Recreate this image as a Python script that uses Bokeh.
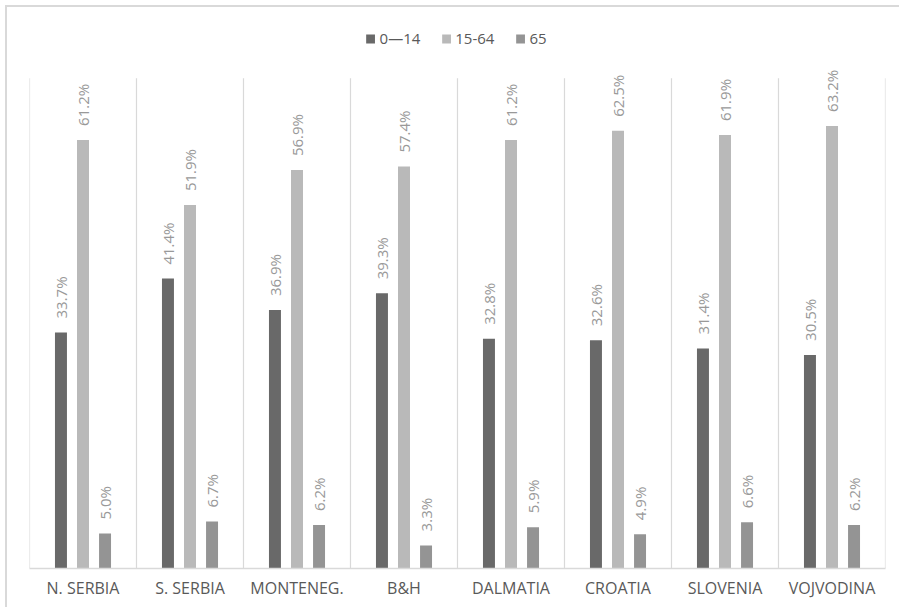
import numpy as np
from bokeh.plotting import figure
from bokeh.models import ColumnDataSource, Range1d, FixedTicker, Legend, LegendItem
from bokeh.core.properties import value
from bokeh.embed import file_html
from bokeh.resources import INLINE

categories = ["N. SERBIA", "S. SERBIA", "MONTENEG.", "B&H", "DALMATIA", "CROATIA", "SLOVENIA", "VOJVODINA"]
series_names = ["0\u201414", "15-64", "65"]
age_0_14 = [33.7, 41.4, 36.9, 39.3, 32.8, 32.6, 31.4, 30.5]
age_15_64 = [61.2, 51.9, 56.9, 57.4, 61.2, 62.5, 61.9, 63.2]
age_65 = [5.0, 6.7, 6.2, 3.3, 5.9, 4.9, 6.6, 6.2]
colors = ["#696969", "#b9b9b9", "#949494"]
axis_max = 70

p = figure(width=894, height=602, output_backend="svg", toolbar_location=None,
           x_range=Range1d(0, len(categories)), y_range=Range1d(0, 79.4),
           min_border_left=22, min_border_right=16, min_border_top=5, min_border_bottom=41)
p.margin = (5, 0, 0, 5)
p.styles = {"border-left": "2px solid #d9d9d9", "border-top": "2px solid #d9d9d9"}
p.outline_line_color = None
p.background_fill_color = "white"
p.border_fill_color = "white"

# category separators
bounds = np.arange(len(categories) + 1)
p.segment(x0=bounds, y0=np.zeros(len(bounds)), x1=bounds, y1=np.full(len(bounds), axis_max),
          line_color="#d9d9d9", line_width=1.2)

idx = np.arange(len(categories))
offsets = [-0.206, 0.0, 0.206]
bar_w = 0.112
items = []
for vals, name, col, off in zip([age_0_14, age_15_64, age_65], series_names, colors, offsets):
    src = ColumnDataSource(dict(x=idx + 0.5 + off, top=vals, lab=["%.1f%%" % v for v in vals]))
    r = p.vbar(x="x", top="top", width=bar_w, bottom=0, source=src, fill_color=col, line_color=None)
    p.text(x="x", y="top", text="lab", source=src, angle=np.pi / 2, text_align="left",
           text_baseline="middle", y_offset=-14, text_font=value("Open Sans"),
           text_font_size="15px", text_color="#999999")
    items.append(LegendItem(label=name, renderers=[r]))

legend = Legend(items=items, orientation="horizontal", location="top_center", margin=16,
                padding=0, spacing=20, glyph_width=11, glyph_height=11, label_standoff=4,
                label_height=20, label_text_font="Open Sans", label_text_font_size="15px",
                label_text_color="#595959", border_line_color=None, background_fill_alpha=0)
p.add_layout(legend, "center")

p.xaxis.ticker = FixedTicker(ticks=list(idx + 0.5))
p.xaxis.major_label_overrides = {float(i + 0.5): c for i, c in enumerate(categories)}
p.xaxis.major_tick_line_color = None
p.xaxis.minor_tick_line_color = None
p.xaxis.axis_line_color = "#d9d9d9"
p.xaxis.axis_line_width = 1.5
p.xaxis.major_label_standoff = 2
p.xaxis.major_label_text_font = "Open Sans"
p.xaxis.major_label_text_font_size = "16px"
p.xaxis.major_label_text_color = "#595959"
p.yaxis.visible = False
p.ygrid.visible = False
p.xgrid.visible = False

open("out.html", "w").write(file_html(p, INLINE))
